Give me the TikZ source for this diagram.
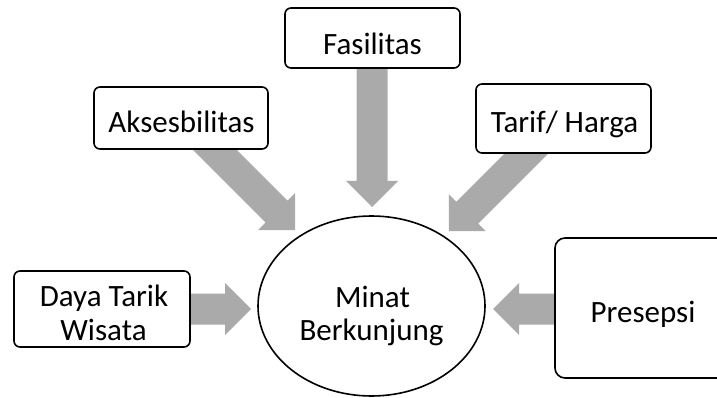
\documentclass[tikz,border=0pt]{standalone}
\usepackage{fontspec}
\setmainfont{Carlito}
\usetikzlibrary{shapes.geometric}
\definecolor{arrgray}{RGB}{170,170,170}
\newcommand\blkarrow[3]{% #1 start coordinate, #2 angle, #3 length (pt)
  \begin{scope}[shift={(#1)}, rotate=#2]
    \fill[arrgray] (0,-15.5) -- (#3-26,-15.5) -- (#3-26,-26) -- (#3,0)
      -- (#3-26,26) -- (#3-26,15.5) -- (0,15.5) -- cycle;
  \end{scope}}
\tikzset{
  box/.style={draw=black, line width=1.6pt, rounded corners=6pt, fill=white,
    inner sep=0pt},
  lbl/.style={anchor=base, inner sep=0pt, font=\fontsize{31}{34}\selectfont},
}
\begin{document}
\begin{tikzpicture}[x=1pt, y=1pt]
\useasboundingbox (0,0) rectangle (717,-398);
\clip (0,0) rectangle (717,-398);
% arrow start coordinates
\coordinate (sdaya) at (185,-309);
\coordinate (spres) at (560,-309);
\coordinate (sfas)  at (372,-60);
\coordinate (saks)  at (200,-135);
\coordinate (star)  at (539,-141);
% block arrows
\blkarrow{sdaya}{0}{66}
\blkarrow{spres}{180}{67}
\blkarrow{sfas}{-90}{147}
\blkarrow{saks}{-45}{134.35}
\blkarrow{star}{-135}{127.3}
% boxes
\node[box, minimum width=175pt, minimum height=60pt] (fas) at (372.5,-38) {};
\node[box, minimum width=174pt, minimum height=62pt] (aks) at (181,-118) {};
\node[box, minimum width=175pt, minimum height=69pt] (tar) at (563.5,-118.5) {};
\node[box, minimum width=176pt, minimum height=76pt] (daya) at (102,-309) {};
\node[box, rounded corners=10pt, minimum width=176pt, minimum height=140pt] (pres) at (643,-308) {};
\node[draw=black, line width=1.6pt, ellipse, fill=white, inner sep=0pt,
  minimum width=227pt, minimum height=180pt] (minat) at (371.5,-306) {};
% texts
\node[lbl] (tfas) at (372.5,-55) {Fasilitas};
\node[lbl] (taks) at (181.5,-133) {Aksesbilitas};
\node[lbl] (ttar) at (564.5,-133) {Tarif/ Harga};
\node[lbl] (tdaya1) at (104,-306) {Daya Tarik};
\node[lbl] (tdaya2) at (103.5,-340) {Wisata};
\node[lbl] (tmin1) at (372.5,-307) {Minat};
\node[lbl] (tmin2) at (371.5,-340) {Berkunjung};
\node[lbl] (tpres) at (643,-322) {Presepsi};
\end{tikzpicture}
\end{document}
